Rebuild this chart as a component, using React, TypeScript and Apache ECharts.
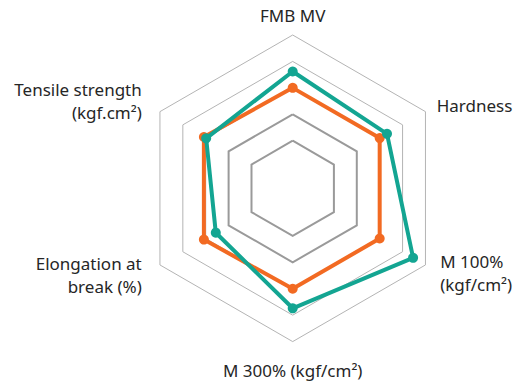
import React, { useEffect, useRef } from "react";
import * as echarts from "echarts";

// Indicators in ECharts radar order (starting at top, going counter-clockwise)
const indicatorNames = [
  "FMB MV",
  "Tensile strength\n(kgf.cm²)",
  "Elongation at\nbreak (%)",
  "M 300% (kgf/cm²)",
  "M 100%\n(kgf/cm²)",
  "Hardness",
];
// scale: center = 0, rings at 9, 14, 19, 24, 29
const axisMax = 29;
const ringSteps = 29;
const innerRings = [9, 14];
const outerRings = [19, 24, 29];

const orangeValues = [19, 19.4, 19.4, 19, 19, 19];
const tealValues = [22.1, 18.9, 16.8, 22.7, 26.3, 20.6];

const ORANGE = "#f26a22";
const TEAL = "#13a592";

export default function App() {
  const ref = useRef<HTMLDivElement>(null);
  useEffect(() => {
    const chart = echarts.init(ref.current!, null, { renderer: "svg" });
    const ringColors = (rings: number[], c: string) =>
      Array.from({ length: ringSteps + 1 }, (_, i) => (rings.includes(i) ? c : "rgba(0,0,0,0)"));
    const indicatorFor = (keep: number[]) =>
      indicatorNames.map((name, i) => ({ name: keep.includes(i) ? name : "", min: 0, max: axisMax }));
    const nameStyle = {
      color: "#262626",
      fontSize: 17,
      fontFamily: "Noto Sans",
      lineHeight: 23,
    };
    const common = {
      center: [292.7, 188.3],
      radius: 153.3,
      startAngle: 90,
      splitNumber: ringSteps,
      shape: "polygon",
      axisLine: { show: false },
      axisTick: { show: false },
      axisLabel: { show: false },
      splitArea: { show: false },
      axisName: nameStyle,
    };
    chart.setOption({
      animation: false,
      radar: [
        {
          ...common,
          indicator: indicatorFor([1, 2]),
          nameGap: 21,
          splitLine: { lineStyle: { color: ringColors(innerRings, "#9a9a9a"), width: 2 } },
        },
        {
          ...common,
          indicator: indicatorFor([5]),
          nameGap: 13,
          splitLine: { lineStyle: { color: ringColors(outerRings, "#b4b4b4"), width: 1 } },
        },
        {
          ...common,
          indicator: indicatorFor([3, 4]),
          nameGap: 17,
          splitLine: { show: false },
        },
        {
          ...common,
          indicator: indicatorFor([0]),
          nameGap: 8,
          splitLine: { show: false },
        },
      ],
      series: [
        {
          type: "radar",
          radarIndex: 1,
          symbol: "circle",
          symbolSize: 10,
          data: [
            {
              value: orangeValues,
              itemStyle: { color: ORANGE },
              lineStyle: { color: ORANGE, width: 4 },
            },
            {
              value: tealValues,
              itemStyle: { color: TEAL },
              lineStyle: { color: TEAL, width: 4 },
            },
          ],
        },
      ],
    });
    return () => chart.dispose();
  }, []);
  return (
    <div
      ref={ref}
      style={{ position: "fixed", left: 0, top: 0, width: 529, height: 383, background: "#fff" }}
    />
  );
}
